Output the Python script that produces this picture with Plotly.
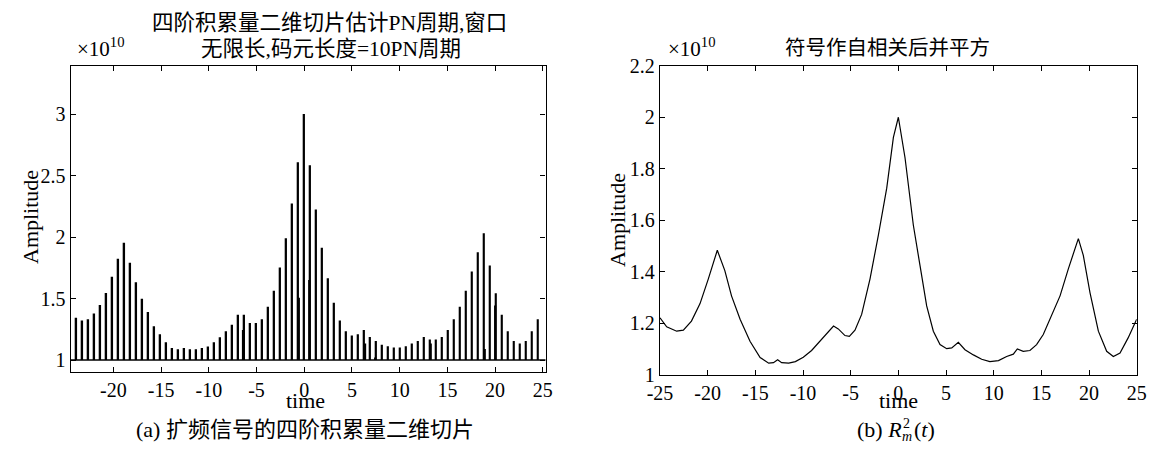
import plotly.graph_objects as go

# ---------------- data ----------------
# (a) fourth-order cumulant 2-D slice, stems (x1e10); sampled at k*pi/5, k=-38..39
stem_k = list(range(-38, 40))
stem_time = [round(k * 0.62832, 4) for k in stem_k]
stem_amp = [
    1.343, 1.322, 1.332, 1.379, 1.447, 1.545, 1.676, 1.823, 1.954, 1.790,
    1.632, 1.499, 1.390, 1.275, 1.210, 1.144, 1.098, 1.087, 1.098, 1.087,
    1.087, 1.098, 1.109, 1.144, 1.185, 1.234, 1.286, 1.368, 1.368, 1.300,
    1.300, 1.332, 1.433, 1.564, 1.752, 1.989, 2.272, 2.608,
    3.000, 2.583, 2.223, 1.913, 1.665, 1.466, 1.322, 1.234, 1.199, 1.210,
    1.243, 1.188, 1.155, 1.123, 1.112, 1.101, 1.101, 1.112, 1.134, 1.155,
    1.188, 1.166, 1.166, 1.188, 1.243, 1.332, 1.433, 1.564, 1.719, 1.877,
    2.030, 1.768, 1.542, 1.368, 1.234, 1.155, 1.134, 1.155, 1.234, 1.332,
]
# secondary short stems (drawn next to main stems)
short_time = [-6.42, -0.56, 0.52, 6.38, 7.43, 13.26, 18.92, 20.0]
short_amp = [1.243, 1.507, 1.651, 1.134, 1.02, 1.134, 1.090, 1.444]

# (b) squared symbol autocorrelation (x1e10)
curve_time = [
    -25.0, -24.3, -23.25, -22.55, -21.7, -20.8, -19.93, -18.99, -18.2, -17.5,
    -16.6, -15.56, -14.5, -13.6, -13.1, -12.66, -12.24, -11.5, -10.8, -9.97,
    -9.1, -8.2, -7.34, -6.8, -6.3, -5.6, -5.14, -4.55, -3.85, -2.97,
    -2.1, -1.22, -0.52, 0.0, 0.7, 1.57, 2.27, 2.97, 3.67, 4.37,
    5.07, 5.6, 6.29, 6.99, 7.87, 8.74, 9.6, 10.5, 11.36, 12.06,
    12.48, 13.1, 13.8, 14.5, 15.2, 16.08, 16.96, 17.83, 18.88, 19.4,
    20.1, 20.98, 21.85, 22.55, 23.25, 24.1, 25.0,
]
curve_amp = [
    1.222, 1.187, 1.170, 1.174, 1.209, 1.277, 1.373, 1.484, 1.405, 1.307,
    1.216, 1.131, 1.068, 1.046, 1.048, 1.059, 1.048, 1.046, 1.052, 1.069,
    1.095, 1.131, 1.167, 1.190, 1.179, 1.153, 1.150, 1.174, 1.235, 1.373,
    1.542, 1.725, 1.922, 2.000, 1.843, 1.582, 1.425, 1.268, 1.170, 1.118,
    1.102, 1.105, 1.127, 1.098, 1.078, 1.061, 1.052, 1.056, 1.072, 1.081,
    1.101, 1.092, 1.095, 1.118, 1.157, 1.229, 1.307, 1.412, 1.529, 1.464,
    1.320, 1.170, 1.092, 1.072, 1.085, 1.144, 1.216,
]

xticks = [-25, -20, -15, -10, -5, 0, 5, 10, 15, 20, 25]
yticks_a = [1, 1.5, 2, 2.5, 3]
yticks_b = [1, 1.2, 1.4, 1.6, 1.8, 2, 2.2]

# ---------------- figure ----------------
FONT = "Liberation Serif, Times New Roman, Noto Sans CJK SC"
W, H = 1151, 451

fig = go.Figure()
fig.add_trace(go.Bar(
    x=stem_time, y=[a - 1 for a in stem_amp], base=1, width=0.15,
    marker=dict(color="black", line=dict(width=0)),
    xaxis="x", yaxis="y", showlegend=False))
fig.add_trace(go.Bar(
    x=short_time, y=[a - 1 for a in short_amp], base=1, width=0.22,
    marker=dict(color="black", line=dict(width=0)),
    xaxis="x", yaxis="y", showlegend=False))
fig.add_trace(go.Scatter(
    x=curve_time, y=curve_amp, mode="lines",
    line=dict(color="black", width=1.2),
    xaxis="x2", yaxis="y2", showlegend=False))

def px_x(p):
    return p / W

def px_y(p):
    return 1 - p / H

axis_common = dict(
    showline=True, linecolor="black", linewidth=1.3, mirror="allticks",
    ticks="inside", ticklen=5, tickcolor="black", tickwidth=1,
    showgrid=False, zeroline=False, automargin=False,
    tickfont=dict(family=FONT, size=20, color="black"),
)

fig.update_layout(
    template="none",
    width=W, height=H,
    margin=dict(l=0, r=0, t=0, b=0, autoexpand=False),
    paper_bgcolor="white", plot_bgcolor="white",
    barmode="overlay",
    font=dict(family=FONT, color="black"),
    xaxis=dict(domain=[px_x(70.7), px_x(545.5)], range=[-24.47, 25.28],
               tickvals=xticks[1:], ticktext=[str(v) for v in xticks[1:]],
               anchor="y", **axis_common),
    yaxis=dict(domain=[px_y(372.3), px_y(65.7)], range=[0.9, 3.393],
               tickvals=yticks_a, ticktext=["1", "1.5", "2", "2.5", "3"],
               anchor="x", **axis_common),
    xaxis2=dict(domain=[px_x(660), px_x(1136.7)], range=[-25, 25],
                tickvals=xticks, ticktext=[str(v) for v in xticks],
                anchor="y2", **axis_common),
    yaxis2=dict(domain=[px_y(375), px_y(65.7)], range=[1, 2.2],
                tickvals=yticks_b, ticktext=["1", "1.2", "1.4", "1.6", "1.8", "2", "2.2"],
                anchor="x2", **axis_common),
)

# baseline at y = 1 in panel (a)
fig.add_shape(type="line", xref="x domain", yref="y", x0=0, x1=1, y0=1, y1=1,
              line=dict(color="black", width=1.3))

def ann(text, x, y, size=19, angle=0, xanchor="center"):
    fig.add_annotation(text=text, x=px_x(x), y=px_y(y), xref="paper", yref="paper",
                       showarrow=False, textangle=angle,
                       font=dict(family=FONT, size=size, color="black"),
                       xanchor=xanchor, yanchor="middle")

# panel (a) texts
ann("四阶积累量二维切片估计PN周期,窗口", 330, 23, 21.5)
ann("无限长,码元长度=10PN周期", 331, 49, 21.5)
ann("×10<sup>10</sup>", 101, 47, 21)
ann("Amplitude", 30, 217, 22, -90)
ann("time", 305, 400, 22)
ann("(a) 扩频信号的四阶积累量二维切片", 305, 429, 22)

# panel (b) texts
ann("符号作自相关后并平方", 887, 48, 20.5)
ann("×10<sup>10</sup>", 692, 47, 21)
ann("Amplitude", 617, 220, 22, -90)
ann("time", 898, 400, 22)
# caption (b) R_m^2(t) with stacked super/subscript
ann("(b) <i>R</i>", 904, 429, 22, xanchor="right")
ann("2", 901, 423, 14, xanchor="left")
ann("<i>m</i>", 900, 436, 14, xanchor="left")
ann("(<i>t</i>)", 912, 429, 22, xanchor="left")

fig.write_html("out.html",
               config={"displayModeBar": False},
               post_script="document.body.style.margin='0px';document.body.style.overflow='hidden';")
